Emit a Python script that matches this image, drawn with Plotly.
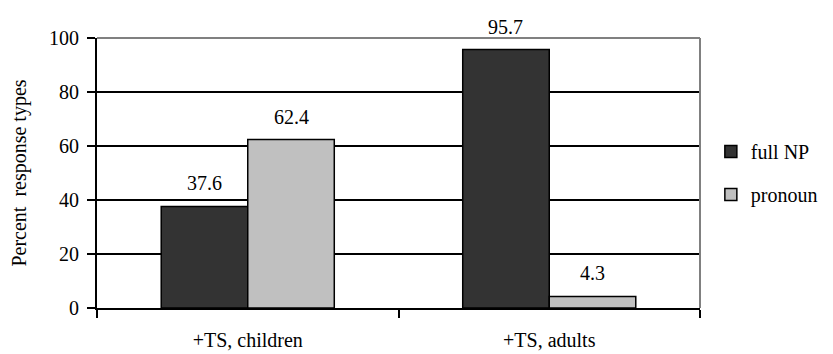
import plotly.graph_objects as go

categories = ["+TS, children", "+TS, adults"]
full_np = [37.6, 95.7]
pronoun = [62.4, 4.3]
series_names = ["full NP", "pronoun"]
y_ticks = [0, 20, 40, 60, 80, 100]

FONT = "'Times New Roman', 'Liberation Serif', serif"
FS = 20
PAGE = 8  # default body margin of the html page

fig = go.Figure()
fig.add_trace(go.Bar(
    x=categories, y=full_np, name=series_names[0], legendgroup="a",
    marker=dict(color="#333333", line=dict(color="black", width=1.5)),
))
fig.add_trace(go.Bar(
    x=categories, y=pronoun, name=series_names[1], legendgroup="b",
    marker=dict(color="#C0C0C0", line=dict(color="black", width=1.5)),
))

annotations = []
for vals, dx in ((full_np, -43.5), (pronoun, 43.5)):
    for c, v in zip(categories, vals):
        annotations.append(dict(
            x=c, y=v, xref="x", yref="y", text=f"{v:.1f}", showarrow=False,
            xshift=dx, yanchor="bottom", yshift=10,
            font=dict(size=FS, family=FONT, color="black")))

fig.update_layout(
    width=833 - PAGE, height=354 - PAGE,
    margin=dict(l=97 - PAGE, r=133, t=38 - PAGE, b=46, autoexpand=False),
    paper_bgcolor="white", plot_bgcolor="white",
    font=dict(family=FONT, size=FS, color="black"),
    barmode="group", bargap=0.426, bargroupgap=0,
    showlegend=True,
    legend=dict(x=1.018, y=0.5, xanchor="left", yanchor="middle",
                font=dict(size=FS, family=FONT), itemwidth=30,
                tracegroupgap=14, bgcolor="rgba(0,0,0,0)"),
    xaxis=dict(showline=True, linecolor="black", linewidth=2,
               ticks="outside", tickson="boundaries", ticklen=8,
               tickwidth=2, tickcolor="black", showgrid=False,
               ticklabelstandoff=13, tickfont=dict(size=FS, family=FONT)),
    yaxis=dict(range=[0, 100], tickvals=y_ticks, showline=True,
               linecolor="black", linewidth=2, ticks="outside", ticklen=8,
               tickwidth=2, tickcolor="black", showgrid=True,
               gridcolor="black", gridwidth=1.5, zeroline=False,
               ticklabelstandoff=4, tickfont=dict(size=FS, family=FONT),
               title=dict(text="Percent  response types",
                          font=dict(size=FS, family=FONT), standoff=20)),
    annotations=annotations,
    shapes=[
        dict(type="line", xref="paper", yref="paper", x0=0, x1=1, y0=1, y1=1,
             line=dict(color="#808080", width=2), layer="above"),
        dict(type="line", xref="paper", yref="paper", x0=1, x1=1, y0=0, y1=1,
             line=dict(color="#808080", width=2), layer="above"),
    ],
)

fig.write_html("out.html")
